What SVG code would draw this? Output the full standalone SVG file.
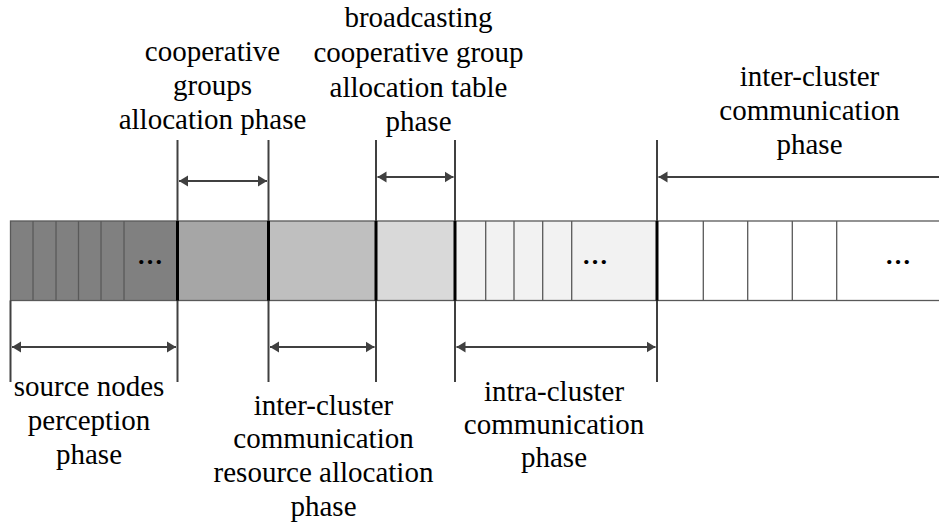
<svg xmlns="http://www.w3.org/2000/svg" width="939" height="524" viewBox="0 0 939 524">
  <style>
    .lbl { font-family: 'Liberation Serif', 'Times New Roman', Tinos, 'DejaVu Serif', serif; font-size: 29px; fill: #000; text-anchor: middle; }
    .dots { font-family: 'Liberation Serif', 'Times New Roman', Tinos, 'DejaVu Serif', serif; font-size: 26px; font-weight: bold; fill: #000; text-anchor: middle; }
    .seg { stroke: #595959; stroke-width: 1.3; }
    .thin { stroke: #595959; stroke-width: 1.3; }
    .div { stroke: #000; stroke-width: 3; }
    .guide { stroke: #404040; stroke-width: 2; fill: none; }
    .arr { stroke: #404040; stroke-width: 2; fill: none; }
  </style>
  <defs>
    <marker id="ah" markerUnits="userSpaceOnUse" markerWidth="10" markerHeight="12" refX="9" refY="6" orient="auto-start-reverse">
      <path d="M0,0.5 L9,6 L0,11.5 z" fill="#404040"/>
    </marker>
  </defs>
  <rect width="939" height="524" fill="#fff"/>

  <!-- bar segments -->
  <g id="seg-source">
    <rect class="seg" x="10.5" y="221" width="167" height="79.5" fill="#808080"/>
    <line class="thin" x1="33" y1="221" x2="33" y2="300.5"/>
    <line class="thin" x1="56" y1="221" x2="56" y2="300.5"/>
    <line class="thin" x1="78.5" y1="221" x2="78.5" y2="300.5"/>
    <line class="thin" x1="101" y1="221" x2="101" y2="300.5"/>
    <line class="thin" x1="124" y1="221" x2="124" y2="300.5"/>
    <text class="dots" x="150" y="264">…</text>
  </g>
  <g id="seg-coop">
    <rect class="seg" x="177.5" y="221" width="91" height="79.5" fill="#a6a6a6"/>
  </g>
  <g id="seg-resource">
    <rect class="seg" x="268.5" y="221" width="107.5" height="79.5" fill="#bfbfbf"/>
  </g>
  <g id="seg-broadcast">
    <rect class="seg" x="376" y="221" width="79" height="79.5" fill="#d9d9d9"/>
  </g>
  <g id="seg-intra">
    <rect class="seg" x="455" y="221" width="202" height="79.5" fill="#f2f2f2"/>
    <line class="thin" x1="485.7" y1="221" x2="485.7" y2="300.5"/>
    <line class="thin" x1="514" y1="221" x2="514" y2="300.5"/>
    <line class="thin" x1="542.7" y1="221" x2="542.7" y2="300.5"/>
    <line class="thin" x1="571.7" y1="221" x2="571.7" y2="300.5"/>
    <text class="dots" x="595" y="264">…</text>
  </g>
  <g id="seg-inter">
    <rect class="seg" x="657" y="221" width="290" height="79.5" fill="#ffffff"/>
    <line class="thin" x1="703.3" y1="221" x2="703.3" y2="300.5"/>
    <line class="thin" x1="747.7" y1="221" x2="747.7" y2="300.5"/>
    <line class="thin" x1="792.3" y1="221" x2="792.3" y2="300.5"/>
    <line class="thin" x1="836.7" y1="221" x2="836.7" y2="300.5"/>
    <text class="dots" x="898" y="264">…</text>
  </g>

  <!-- connectors: guide lines, dividers, arrows -->
  <g id="connectors">
    <line class="guide" x1="10.5" y1="300.5" x2="10.5" y2="382"/>
    <line class="guide" x1="177.5" y1="140" x2="177.5" y2="382"/>
    <line class="guide" x1="268.5" y1="140" x2="268.5" y2="382"/>
    <line class="guide" x1="376" y1="140" x2="376" y2="382"/>
    <line class="guide" x1="455" y1="140" x2="455" y2="382"/>
    <line class="guide" x1="657" y1="140" x2="657" y2="382"/>
    <line class="div" x1="177.5" y1="221" x2="177.5" y2="300.5"/>
    <line class="div" x1="268.5" y1="221" x2="268.5" y2="300.5"/>
    <line class="div" x1="376" y1="221" x2="376" y2="300.5"/>
    <line class="div" x1="455" y1="221" x2="455" y2="300.5"/>
    <line class="div" x1="657" y1="221" x2="657" y2="300.5"/>

    <line class="arr" x1="179" y1="181" x2="267" y2="181" marker-start="url(#ah)" marker-end="url(#ah)"/>
    <line class="arr" x1="377.5" y1="177" x2="453.5" y2="177" marker-start="url(#ah)" marker-end="url(#ah)"/>
    <line class="arr" x1="939" y1="177" x2="658.5" y2="177" marker-end="url(#ah)"/>
    <line class="arr" x1="12" y1="347" x2="176" y2="347" marker-start="url(#ah)" marker-end="url(#ah)"/>
    <line class="arr" x1="270" y1="347" x2="374.5" y2="347" marker-start="url(#ah)" marker-end="url(#ah)"/>
    <line class="arr" x1="456.5" y1="347" x2="655.5" y2="347" marker-start="url(#ah)" marker-end="url(#ah)"/>
  </g>

  <!-- labels -->
  <g id="label-coop">
    <text class="lbl" x="212.5" y="61">cooperative</text>
    <text class="lbl" x="212.5" y="95">groups</text>
    <text class="lbl" x="212.5" y="129">allocation phase</text>
  </g>
  <g id="label-broadcast">
    <text class="lbl" x="418.5" y="27">broadcasting</text>
    <text class="lbl" x="418.5" y="62">cooperative group</text>
    <text class="lbl" x="418.5" y="97">allocation table</text>
    <text class="lbl" x="418.5" y="131">phase</text>
  </g>
  <g id="label-inter-top">
    <text class="lbl" x="809.5" y="86">inter-cluster</text>
    <text class="lbl" x="809.5" y="120">communication</text>
    <text class="lbl" x="809.5" y="154">phase</text>
  </g>
  <g id="label-source">
    <text class="lbl" x="89" y="396">source nodes</text>
    <text class="lbl" x="89" y="430">perception</text>
    <text class="lbl" x="89" y="464">phase</text>
  </g>
  <g id="label-resource">
    <text class="lbl" x="323.5" y="415">inter-cluster</text>
    <text class="lbl" x="323.5" y="448">communication</text>
    <text class="lbl" x="323.5" y="482">resource allocation</text>
    <text class="lbl" x="323.5" y="516">phase</text>
  </g>
  <g id="label-intra">
    <text class="lbl" x="554" y="401">intra-cluster</text>
    <text class="lbl" x="554" y="434">communication</text>
    <text class="lbl" x="554" y="467">phase</text>
  </g>
</svg>
